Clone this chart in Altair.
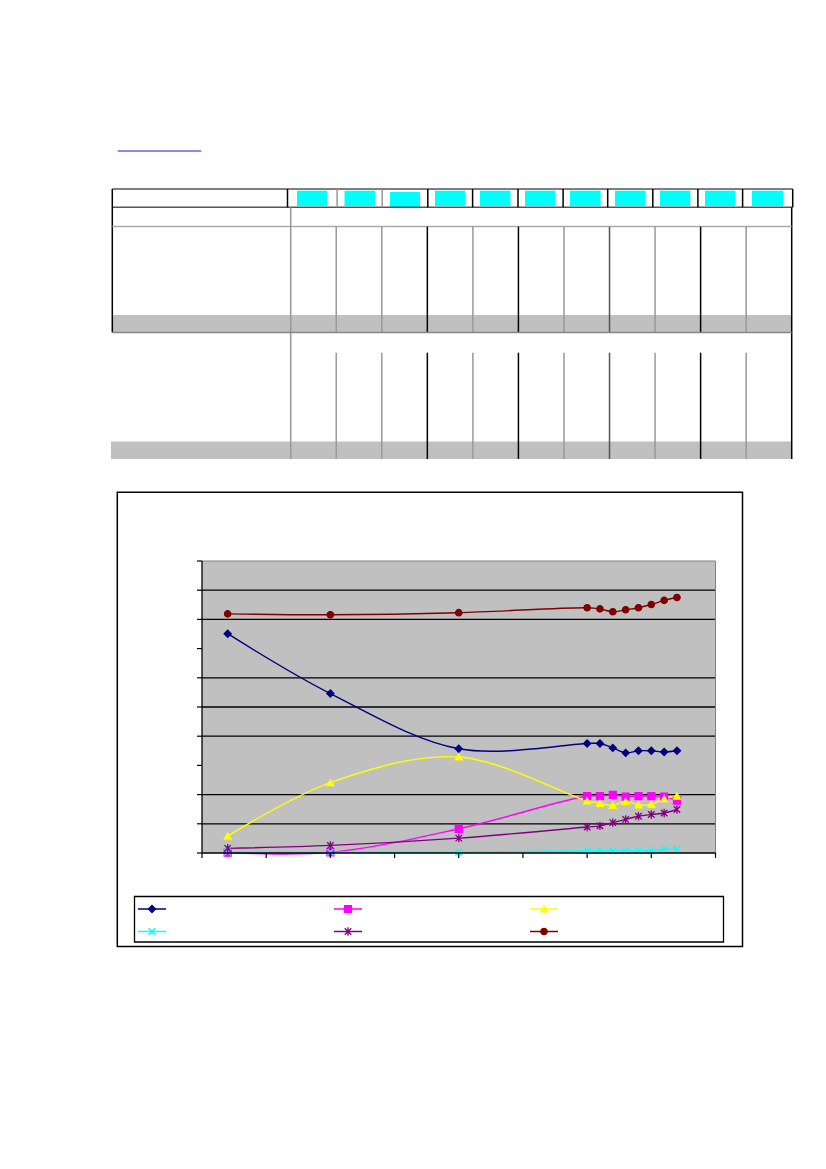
import altair as alt
import pandas as pd

# ---------------- chart data ----------------
years = [1924, 1940, 1960, 1980, 1982, 1984, 1986, 1988, 1990, 1992, 1994]
series_names = ["Series 1", "Series 2", "Series 3", "Series 4", "Series 5", "Series 6"]
s1 = [75.1, 54.6, 35.7, 37.5, 37.5, 36.0, 34.3, 35.0, 35.0, 34.6, 35.0]
s2 = [0.1, 0.2, 8.3, 19.5, 19.5, 19.9, 19.3, 19.5, 19.5, 19.3, 17.9]
s3 = [5.8, 24.1, 32.9, 17.8, 17.0, 16.3, 17.7, 16.5, 16.7, 18.6, 19.5]
s4 = [0.3, 0.3, 0.3, 0.8, 0.8, 0.8, 0.8, 0.8, 0.8, 1.3, 1.3]
s5 = [1.6, 2.6, 5.1, 8.9, 9.3, 10.4, 11.5, 12.6, 13.2, 13.7, 14.9]
s6 = [81.9, 81.6, 82.3, 84.0, 83.6, 82.6, 83.3, 84.0, 85.1, 86.5, 87.5]
x_ticks = [1920, 1930, 1940, 1950, 1960, 1970, 1980, 1990, 2000]
y_ticks = [0, 10, 20, 30, 40, 50, 60, 70, 80, 90, 100]
grid_values = [10, 20, 40, 50, 60, 80, 90]

colors = ["#000080", "#FF00FF", "#FFFF00", "#00FFFF", "#800080", "#800000"]
X_PATH = "M-1,-1L1,1M-1,1L1,-1"
STAR_PATH = "M-1,-1L1,1M-1,1L1,-1M0,-1.3L0,1.3"
shapes = ["diamond", "square", "triangle-up", X_PATH, STAR_PATH, "circle"]
marker_sizes = [50, 40, 50, 40, 40, 34]

rows = []
for name, vals in zip(series_names, [s1, s2, s3, s4, s5, s6]):
    for yr, v in zip(years, vals):
        rows.append({"series": name, "year": yr, "value": v})
df = pd.DataFrame(rows)

# ---------------- layout (page pixels) ----------------
OFF = 8
PL, PR, PT, PB = 202.0, 715.5, 561.0, 853.0

xs = alt.Scale(domain=[x_ticks[0], x_ticks[-1]], range=[PL - OFF, PR - OFF], nice=False, zero=False)
ys = alt.Scale(domain=[y_ticks[0], y_ticks[-1]], range=[PB - OFF, PT - OFF], nice=False, zero=False)
col_scale = alt.Scale(domain=series_names, range=colors)
shape_scale = alt.Scale(domain=series_names, range=shapes)
size_scale = alt.Scale(domain=series_names, range=marker_sizes)

rects = []
def rect(x1, y1, x2, y2, fill, stroke="transparent", sw=0.0):
    rects.append({"x": x1 - OFF, "x2": x2 - OFF, "y": y1 - OFF, "y2": y2 - OFF,
                  "fill": fill, "stroke": stroke, "sw": sw})

segs = []
def seg(x1, y1, x2, y2, color, w=1.5):
    segs.append({"x": x1 - OFF, "x2": x2 - OFF, "y": y1 - OFF, "y2": y2 - OFF,
                 "c": color, "w": w})

# table
TL, TR, C0 = 112.3, 791.7, 290.7
colw = (TR - C0) / 11
rect(TL, 315.0, TR, 332.5, "#C0C0C0")
rect(111.0, 441.5, TR, 459.0, "#C0C0C0")
cyan_x = [(297, 327), (344.5, 375), (390, 420), (435, 465.3), (480, 510.4), (525, 555.5),
          (570, 600.6), (615, 645.7), (660, 690.3), (705, 735.4), (752, 783)]
for i, (a, b) in enumerate(cyan_x):
    if i == 2:
        rect(a, 192.0, b, 207.3, "#00FFFF")
    else:
        rect(a, 190.7, b, 206.0, "#00FFFF")

seg(117.7, 151.0, 201.3, 151.0, "#6262F0", 1.5)
seg(TL, 189.0, 792.7, 189.0, "#555555")
seg(TL, 207.3, 792.7, 207.3, "#555555")
seg(TL, 189.0, TL, 332.5, "#000000")
hdr_x = [287.5, 337.1, 382.2, 427.8, 472.6, 518.0, 563.1, 607.7, 652.8, 697.9, 742.6, 792.7]
hdr_c = ["#000000", "#999999", "#999999"] + ["#000000"] * 9
for xv, cv in zip(hdr_x, hdr_c):
    seg(xv, 189.0, xv, 207.3, cv)
seg(TR, 207.3, TR, 459.0, "#000000")
seg(TL, 226.6, TR, 226.6, "#AAAAAA")
seg(C0, 207.3, C0, 459.0, "#999999")
body_c = ["#999999", "#999999", "#000000", "#999999", "#000000", "#999999",
          "#555555", "#999999", "#000000", "#999999"]
for k in range(1, 11):
    xv = C0 + k * colw
    seg(xv, 226.6, xv, 332.5, body_c[k - 1])
    seg(xv, 352.7, xv, 459.0, body_c[k - 1])
seg(TL, 332.5, TR, 332.5, "#888888")

# chart frame and legend box
rect(117.3, 492.3, 742.5, 946.5, "#FFFFFF", "#000000", 1.5)
rect(134.5, 896.5, 723.5, 942.0, "#FFFFFF", "#000000", 1.3)

rects_df = pd.DataFrame(rects)
segs_df = pd.DataFrame(segs)

rect_layer = alt.Chart(rects_df).mark_rect().encode(
    x=alt.X("x:Q", scale=None), x2="x2:Q",
    y=alt.Y("y:Q", scale=None), y2="y2:Q",
    fill=alt.Fill("fill:N", scale=None),
    stroke=alt.Stroke("stroke:N", scale=None),
    strokeWidth=alt.StrokeWidth("sw:Q", scale=None),
)
seg_layer = alt.Chart(segs_df).mark_rule().encode(
    x=alt.X("x:Q", scale=None), x2="x2:Q",
    y=alt.Y("y:Q", scale=None), y2="y2:Q",
    color=alt.Color("c:N", scale=None),
    strokeWidth=alt.StrokeWidth("w:Q", scale=None),
)

one = pd.DataFrame({"a": [0]})
plot_bg = alt.Chart(one).mark_rect(color="#C0C0C0").encode(
    x=alt.XDatum(x_ticks[0], scale=xs, axis=None), x2=alt.X2Datum(x_ticks[-1]),
    y=alt.YDatum(y_ticks[0], scale=ys, axis=None), y2=alt.Y2Datum(y_ticks[-1]),
)
grid = alt.Chart(pd.DataFrame({"g": grid_values})).mark_rule(color="#000000", strokeWidth=1.3).encode(
    y=alt.Y("g:Q", scale=ys, axis=None),
    x=alt.XDatum(x_ticks[0], scale=xs, axis=None), x2=alt.X2Datum(x_ticks[-1]),
)
border_top = alt.Chart(one).mark_rule(color="#808080", strokeWidth=1).encode(
    y=alt.YDatum(y_ticks[-1], scale=ys, axis=None),
    x=alt.XDatum(x_ticks[0], scale=xs, axis=None), x2=alt.X2Datum(x_ticks[-1]),
)
border_right = alt.Chart(one).mark_rule(color="#808080", strokeWidth=1).encode(
    x=alt.XDatum(x_ticks[-1], scale=xs, axis=None),
    y=alt.YDatum(y_ticks[0], scale=ys, axis=None), y2=alt.Y2Datum(y_ticks[-1]),
)
axis_left = alt.Chart(one).mark_rule(color="#000000", strokeWidth=1.3).encode(
    x=alt.XDatum(x_ticks[0], scale=xs, axis=None),
    y=alt.YDatum(y_ticks[0], scale=ys, axis=None), y2=alt.Y2Datum(y_ticks[-1]),
)
axis_bottom = alt.Chart(one).mark_rule(color="#000000", strokeWidth=1.3).encode(
    y=alt.YDatum(y_ticks[0], scale=ys, axis=None),
    x=alt.XDatum(x_ticks[0], scale=xs, axis=None), x2=alt.X2Datum(x_ticks[-1]),
)
ytick_layer = alt.Chart(pd.DataFrame({"t": y_ticks})).mark_rule(color="#000000", strokeWidth=1.2).encode(
    y=alt.Y("t:Q", scale=ys, axis=None),
    x=alt.value(PL - OFF - 5), x2=alt.value(PL - OFF),
)
xtick_layer = alt.Chart(pd.DataFrame({"t": x_ticks})).mark_rule(color="#000000", strokeWidth=1.2).encode(
    x=alt.X("t:Q", scale=xs, axis=None),
    y=alt.value(PB - OFF), y2=alt.value(PB - OFF + 5),
)

lines = alt.Chart(df).mark_line(interpolate="catmull-rom", strokeWidth=1.4).encode(
    x=alt.X("year:Q", scale=xs, axis=None),
    y=alt.Y("value:Q", scale=ys, axis=None),
    color=alt.Color("series:N", scale=col_scale, legend=None),
    detail="series:N",
)
points = alt.Chart(df).mark_point(filled=True, opacity=1, strokeWidth=1.3).encode(
    x=alt.X("year:Q", scale=xs, axis=None),
    y=alt.Y("value:Q", scale=ys, axis=None),
    color=alt.Color("series:N", scale=col_scale, legend=None),
    stroke=alt.Stroke("series:N", scale=col_scale, legend=None),
    shape=alt.Shape("series:N", scale=shape_scale, legend=None),
    size=alt.Size("series:N", scale=size_scale, legend=None),
)

# legend (symbols only, as in the picture)
leg_cx = [152.0, 348.0, 544.0]
leg_cy = [909.0, 931.5]
leg_rows = []
for i, name in enumerate(series_names):
    cx = leg_cx[i % 3]
    cy = leg_cy[i // 3]
    leg_rows.append({"series": name, "x": cx - 14 - OFF, "x2": cx + 14 - OFF,
                     "cx": cx - OFF, "cy": cy - OFF})
leg_df = pd.DataFrame(leg_rows)
leg_lines = alt.Chart(leg_df).mark_rule(strokeWidth=1.5).encode(
    x=alt.X("x:Q", scale=None), x2="x2:Q",
    y=alt.Y("cy:Q", scale=None),
    color=alt.Color("series:N", scale=col_scale, legend=None),
)
leg_points = alt.Chart(leg_df).mark_point(filled=True, opacity=1, strokeWidth=1.3).encode(
    x=alt.X("cx:Q", scale=None),
    y=alt.Y("cy:Q", scale=None),
    color=alt.Color("series:N", scale=col_scale, legend=None),
    stroke=alt.Stroke("series:N", scale=col_scale, legend=None),
    shape=alt.Shape("series:N", scale=shape_scale, legend=None),
    size=alt.Size("series:N", scale=size_scale, legend=None),
)

chart = alt.layer(
    rect_layer, seg_layer, plot_bg, grid, border_top, border_right,
    lines, points, axis_left, axis_bottom, ytick_layer, xtick_layer,
    leg_lines, leg_points,
).properties(
    width=795, height=1000, padding=0,
    autosize=alt.AutoSizeParams(type="none"),
).configure_view(stroke=None)

chart.save("out.html", embed_options={"renderer": "svg", "actions": False})
